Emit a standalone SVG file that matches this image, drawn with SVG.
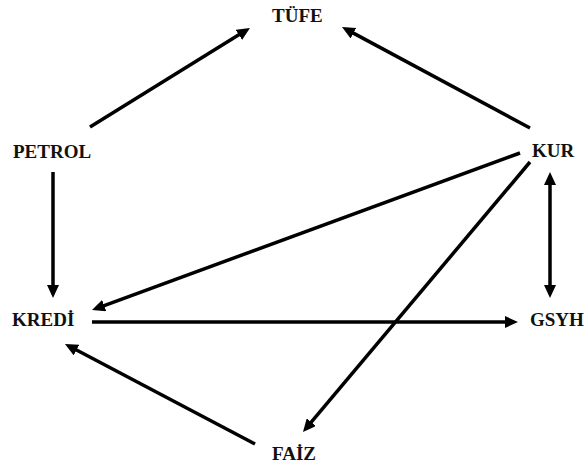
<svg xmlns="http://www.w3.org/2000/svg" width="585" height="465" viewBox="0 0 585 465">
<style>
.lbl{font-family:"Liberation Serif","Times New Roman",serif;font-weight:bold;font-size:19px;fill:#111}
.edge{stroke:#000;stroke-width:3.5;fill:none;marker-end:url(#ah)}
</style>
<defs>
<marker id="ah" markerUnits="userSpaceOnUse" markerWidth="13" markerHeight="12" refX="8" refY="6" orient="auto-start-reverse" viewBox="0 0 13 12">
<path d="M0,0 L13,6 L0,12 z" fill="#000"/>
</marker>
</defs>
<rect width="585" height="465" fill="#fff"/>
<g id="connectors">
<line class="edge" x1="90" y1="127" x2="245.7" y2="30.6"/>
<line class="edge" x1="530" y1="128" x2="346.4" y2="29.4"/>
<line class="edge" x1="53" y1="172" x2="53" y2="293"/>
<line class="edge" x1="550" y1="177" x2="550" y2="293" style="marker-start:url(#ah)"/>
<line class="edge" x1="520" y1="153" x2="96.7" y2="308.3"/>
<line class="edge" x1="530" y1="162" x2="306.2" y2="428.2"/>
<line class="edge" x1="92" y1="322" x2="513" y2="322"/>
<line class="edge" x1="255" y1="444" x2="69.4" y2="346.3"/>
</g>
<g id="TUFE"><text class="lbl" x="272" y="22">TÜFE</text></g>
<g id="PETROL"><text class="lbl" x="13" y="158">PETROL</text></g>
<g id="KUR"><text class="lbl" x="532" y="157">KUR</text></g>
<g id="KREDI"><text class="lbl" x="12" y="326">KREDİ</text></g>
<g id="GSYH"><text class="lbl" x="530" y="326">GSYH</text></g>
<g id="FAIZ"><text class="lbl" x="272" y="460">FAİZ</text></g>
</svg>
